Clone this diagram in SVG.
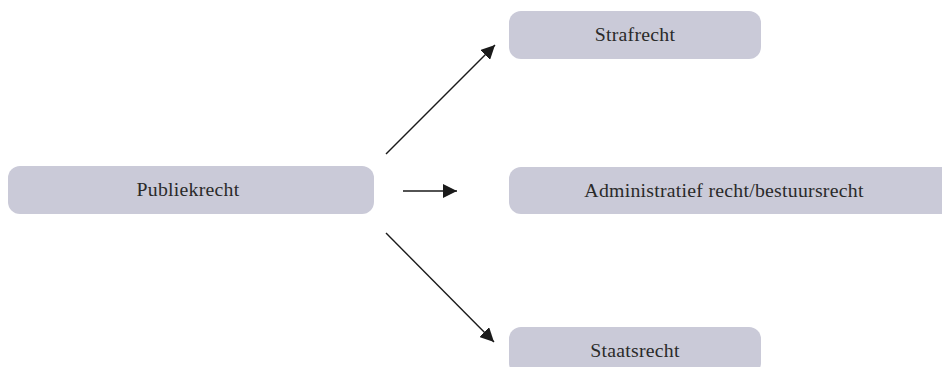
<svg xmlns="http://www.w3.org/2000/svg" width="942" height="367" viewBox="0 0 942 367">
  <style>
    .box { fill: #cacad8; }
    .lbl { font-family: "Liberation Serif", "DejaVu Serif", serif; font-size: 19.8px; letter-spacing: 0.25px; fill: #2a2a2a; text-anchor: middle; }
    .conn { stroke: #1a1a1a; stroke-width: 1.4; fill: none; marker-end: url(#arrow); }
  </style>
  <defs>
    <marker id="arrow" markerUnits="userSpaceOnUse" markerWidth="15" markerHeight="14" refX="14" refY="7" orient="auto">
      <path d="M0,0 L14,7 L0,14 Z" fill="#1a1a1a"/>
    </marker>
  </defs>
  <rect width="942" height="367" fill="#ffffff"/>
  <g id="node-publiekrecht">
    <rect class="box" x="8" y="166" width="366" height="48" rx="12"/>
    <text class="lbl" x="188" y="196">Publiekrecht</text>
  </g>
  <g id="node-strafrecht">
    <rect class="box" x="509" y="11" width="252" height="48" rx="12"/>
    <text class="lbl" x="635" y="41">Strafrecht</text>
  </g>
  <g id="node-administratief">
    <rect class="box" x="509" y="167" width="445" height="47" rx="12"/>
    <text class="lbl" x="724" y="197">Administratief recht/bestuursrecht</text>
  </g>
  <g id="node-staatsrecht">
    <rect class="box" x="509" y="327" width="252" height="48" rx="12"/>
    <text class="lbl" x="635" y="357">Staatsrecht</text>
  </g>
  <g id="connectors">
    <line class="conn" x1="386" y1="154" x2="495" y2="45"/>
    <line class="conn" x1="403" y1="191" x2="457" y2="191"/>
    <line class="conn" x1="386" y1="233" x2="494" y2="342"/>
  </g>
</svg>
